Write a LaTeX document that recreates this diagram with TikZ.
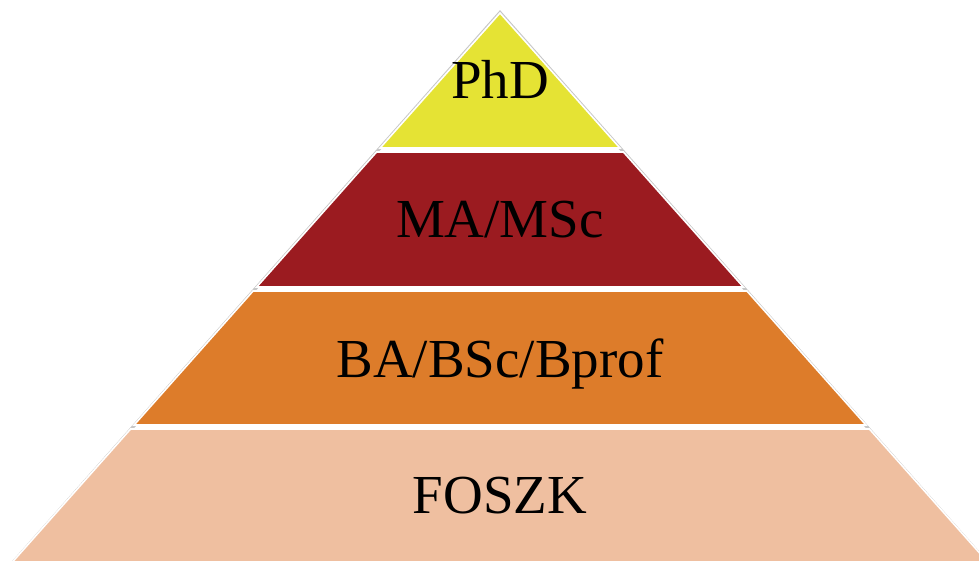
\documentclass[tikz,border=0pt]{standalone}
\usepackage{fontspec}
\setmainfont{Liberation Serif}
\definecolor{phdfill}{RGB}{229,227,52}
\definecolor{mafill}{RGB}{155,27,32}
\definecolor{bafill}{RGB}{221,124,42}
\definecolor{foszkfill}{RGB}{239,191,160}
\tikzset{
  band/.style={fill=#1, draw=white, line width=1.6pt, line join=miter},
  label/.style={anchor=base, inner sep=0pt, font=\fontsize{55}{60}\selectfont, text=black},
  rim/.style={draw=black!22, line width=3.2pt, line cap=butt}
}
\begin{document}
\begin{tikzpicture}[x=1pt, y=-1pt]
  \useasboundingbox (0,0) rectangle (979,561);
  \clip (0,0) rectangle (979,561);
  % faint shadow along the two sloping sides
  \draw[rim] (13.4,562) -- (500,12.5) -- (986.6,562);
  % the four bands, bottom to top
  \path[band=foszkfill] (130.6,429) -- (869.4,429) -- (988,562.5) -- (12,562.5) -- cycle;
  \path[band=bafill]    (253.1,291) -- (746.9,291) -- (865.9,425) -- (134.1,425) -- cycle;
  \path[band=mafill]    (376.6,152) -- (623.4,152) -- (743.3,287) -- (256.7,287) -- cycle;
  \path[band=phdfill]   (500,13) -- (619.9,148) -- (380.1,148) -- cycle;
  % level names
  \node[label] (phd)   at (500,99)  {PhD};
  \node[label] (ma)    at (500,237) {MA/MSc};
  \node[label] (ba)    at (500,377) {BA/BSc/Bprof};
  \node[label] (foszk) at (500,513) {FOSZK};
\end{tikzpicture}
\end{document}
